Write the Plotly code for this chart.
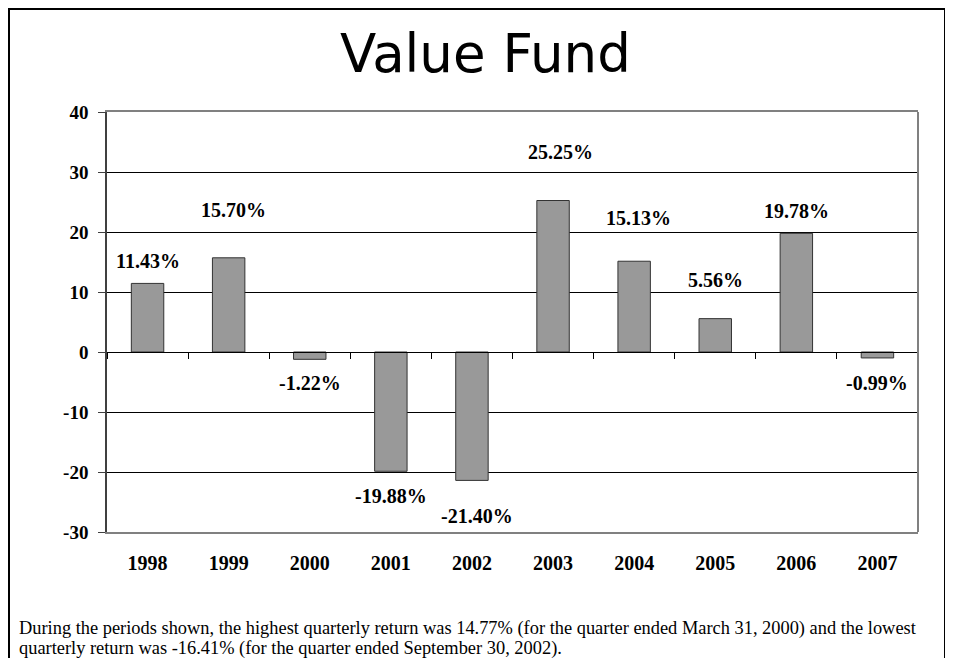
import plotly.graph_objects as go

# ---- data ----
years = ["1998", "1999", "2000", "2001", "2002", "2003", "2004", "2005", "2006", "2007"]
returns = [11.43, 15.70, -1.22, -19.88, -21.40, 25.25, 15.13, 5.56, 19.78, -0.99]
labels = ["11.43%", "15.70%", "-1.22%", "-19.88%", "-21.40%", "25.25%", "15.13%", "5.56%", "19.78%", "-0.99%"]
y_ticks = [-30, -20, -10, 0, 10, 20, 30, 40]
y_tick_text = ["-30", "-20", "-10", "0", "10", "20", "30", "40"]
title_text = "Value Fund"
footer_lines = [
    "During the periods shown, the highest quarterly return was 14.77% (for the quarter ended March 31, 2000) and the lowest",
    "quarterly return was -16.41% (for the quarter ended September 30, 2002).",
]

# ---- layout constants (pixels, in window coordinates) ----
OFF = 8                      # default page body margin
W, H = 953 - OFF, 658 - OFF  # figure size
PL, PR, PT, PB = 107, 918, 112, 532   # plot area edges in window pixels
ML, MT = PL - OFF, PT - OFF
MR, MB = W - (PR - OFF), H - (PB - OFF)
PW, PH = PR - PL, PB - PT

def px_x(p):
    return (p - PL) / PW

def px_y(p):
    return (PB - p) / PH

# label offsets (pixels) from bar end, Excel-style placement
label_yshift = [22, 48, -24, -25, -36, 49, 43, 39, 22, -25]
label_xshift = [0, 5, 0, 0, 5, 7, 4, 0, 0, 0]

serif = "Liberation Serif, Times New Roman, serif"

fig = go.Figure()
fig.add_trace(go.Bar(
    x=years, y=returns, width=0.4,
    marker=dict(color="#999999", line=dict(color="#333333", width=1)),
    hoverinfo="skip", showlegend=False,
))
# invisible trace to activate the zero-line axis
fig.add_trace(go.Scatter(x=years, y=[0] * len(years), xaxis="x2", mode="markers",
                         marker=dict(opacity=0), hoverinfo="skip", showlegend=False))

annotations = []
for i, (v, t) in enumerate(zip(returns, labels)):
    annotations.append(dict(
        x=i, y=v, xref="x", yref="y", text=t, showarrow=False,
        yshift=label_yshift[i], xshift=label_xshift[i],
        xanchor="center", yanchor="middle",
        font=dict(family=serif, size=20, color="black", weight="bold"),
    ))
annotations.append(dict(
    x=px_x(485), y=px_y(53), xref="paper", yref="paper", text=title_text,
    showarrow=False, xanchor="center", yanchor="middle",
    font=dict(family="DejaVu Sans, Arial, sans-serif", size=53, color="black"),
))
for k, line in enumerate(footer_lines):
    annotations.append(dict(
        x=px_x(17), y=px_y(628 + 20 * k), xref="paper", yref="paper", text=line,
        showarrow=False, xanchor="left", yanchor="middle",
        font=dict(family=serif, size=18.4, color="black"),
    ))

shapes = [
    # outer frame
    dict(type="rect", xref="paper", yref="paper",
         x0=px_x(9), x1=px_x(945), y0=px_y(720), y1=px_y(9),
         line=dict(color="black", width=2), fillcolor="rgba(0,0,0,0)", layer="below"),
    # right side of plot frame
    dict(type="line", xref="paper", yref="paper", x0=1, x1=1, y0=0, y1=1,
         line=dict(color="#808080", width=2)),
]

fig.update_layout(
    width=W, height=H,
    margin=dict(l=ML, r=MR, t=MT, b=MB, pad=0),
    paper_bgcolor="white", plot_bgcolor="white",
    annotations=annotations,
    shapes=shapes,
    xaxis=dict(
        type="category", range=[-0.5, 9.5], showgrid=False, zeroline=False,
        showline=True, linecolor="#808080", linewidth=2, mirror=True,
        ticks="", ticklabelstandoff=12,
        tickfont=dict(family=serif, size=20, color="black", weight="bold"),
    ),
    xaxis2=dict(
        type="category", overlaying="x", anchor="free", position=30 / 70,
        range=[-0.5, 9.5], categoryorder="array", categoryarray=years,
        showgrid=False, zeroline=False, showline=True, linecolor="black", linewidth=1,
        ticks="outside", tickson="boundaries", ticklen=6, tickcolor="black", tickwidth=1,
        showticklabels=False, side="bottom",
    ),
    yaxis=dict(
        range=[-30, 40], tickvals=y_ticks, ticktext=y_tick_text,
        showgrid=True, gridcolor="black", gridwidth=1,
        zeroline=False, showline=True, linecolor="#404040", linewidth=1.5,
        ticks="outside", ticklen=7, tickcolor="#404040", ticklabelstandoff=6,
        tickfont=dict(family=serif, size=19, color="black", weight="bold"),
    ),
)

fig.write_html("out.html")
